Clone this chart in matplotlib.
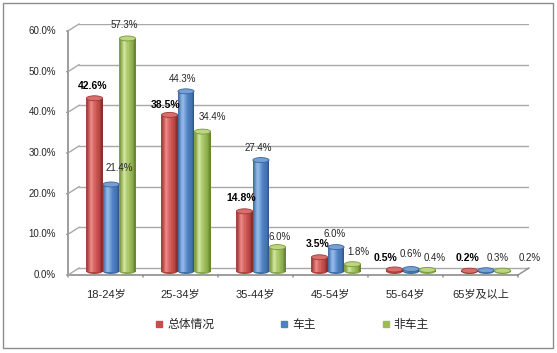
import numpy as np
import matplotlib
matplotlib.use("Agg")
import matplotlib.pyplot as plt
from matplotlib.colors import LinearSegmentedColormap
from matplotlib.patches import Ellipse, Rectangle
from matplotlib.lines import Line2D
from matplotlib.transforms import ScaledTranslation

plt.rcParams['font.family'] = ['Liberation Sans', 'Noto Sans CJK SC']

categories = ["18-24岁", "25-34岁", "35-44岁", "45-54岁", "55-64岁", "65岁及以上"]
series_names = ["总体情况", "车主", "非车主"]
total = [42.6, 38.5, 14.8, 3.5, 0.5, 0.2]
owners = [21.4, 44.3, 27.4, 6.0, 0.6, 0.3]
non_owners = [57.3, 34.4, 6.0, 1.8, 0.4, 0.2]
yticks = [0, 10, 20, 30, 40, 50, 60]

# label nudges in px (dx, dy above bar top)
lab_dx = [[-2, -4, -3, -2, -9, -2.5], [8, -3, -3, -1, 0, 11.5], [-3, 10, 2, 5.5, 7.5, 27.5]]
lab_dy = [[12.5, 10, 13, 13, 11, 12.5], [16, 12, 12.5, 13.5, 15, 12], [13, 15, 10, 12, 12, 13]]

W, H = 557, 353
fig = plt.figure(figsize=(W/100, H/100), dpi=100, facecolor="white")

# mid-depth plane of the 3D box, in pixels
x0px, x1px = 73.5, 523.5
y0px, ppu = 271.5, 244/60.0
ylo, yhi = -3, 60
bot = y0px - ylo*ppu
n = len(categories)
dx, dy = 5.5, 3.5   # half depth in px

# back wall: its own axes, shifted by half the depth, with plain y grid
axb = fig.add_axes([(x0px + dx)/W, (H - bot + dy)/H, (x1px - x0px)/W, (yhi - ylo)*ppu/H])
axb.set_zorder(-1)
axb.patch.set_visible(False)
axb.set_xlim(0, n)
axb.set_ylim(ylo, yhi)
axb.set_yticks(yticks)
axb.set_xticks([])
axb.tick_params(left=False, labelleft=False)
for sp in axb.spines.values():
    sp.set_visible(False)
axb.grid(axis="y", color="#a8a8a8", lw=1.0)

ax = fig.add_axes([x0px/W, (H-bot)/H, (x1px-x0px)/W, (yhi-ylo)*ppu/H])
ax.set_axis_off()
ax.patch.set_visible(False)
ax.set_autoscale_on(False)
ax.set_xlim(0, n)
ax.set_ylim(ylo, yhi)

front = ax.transData + ScaledTranslation(-dx/100, -dy/100, fig.dpi_scale_trans)
back = ax.transData + ScaledTranslation(dx/100, dy/100, fig.dpi_scale_trans)


def fig_line(p, q, color, lw=1.0, z=5):
    fig.add_artist(Line2D([p[0]/W, q[0]/W], [p[1]/H, q[1]/H], color=color, lw=lw, zorder=z))


# side wall / floor diagonals
for v in yticks:
    fig_line(front.transform((0, v)), back.transform((0, v)), "#a8a8a8")
fig_line(front.transform((n, 0)), back.transform((n, 0)), "#8c8c8c")

# front axes
ax.plot([0, 0], [0, 60], transform=front, color="#8c8c8c", lw=1.2, clip_on=False)
ax.plot([0, n], [0, 0], transform=front, color="#8c8c8c", lw=1.2, clip_on=False, zorder=4)
for v in yticks:
    ax.annotate("", xy=(0, v), xycoords=front, xytext=(-3, 0), textcoords="offset points",
                arrowprops=dict(arrowstyle="-", color="#8c8c8c", lw=1))
    ax.annotate("%.1f%%" % v, xy=(0, v), xycoords=front, xytext=(-8.5, 0),
                textcoords="offset points", ha="right", va="center", fontsize=7, color="#262626")
for i in range(n + 1):
    ax.annotate("", xy=(i, 0), xycoords=front, xytext=(0, -3.5), textcoords="offset points",
                arrowprops=dict(arrowstyle="-", color="#8c8c8c", lw=1))
for i, c in enumerate(categories):
    ax.annotate(c, xy=(i + 0.5, 0), xycoords=front, xytext=(0, -13.5), textcoords="offset points",
                ha="center", va="center", fontsize=8, color="#262626")

# cylinders, shaded with thin vertical strips
grads = [["#9E3936", "#EE8C89", "#CC5552", "#B24340", "#842926"],
         ["#37649C", "#93B9E8", "#5286C4", "#4170AA", "#2B5183"],
         ["#7A973B", "#D3E7A0", "#A0C05E", "#88A84B", "#627C2E"]]
tops = [("#D86F6C", "#9E3936"), ("#76A0D4", "#37649C"), ("#BBD67E", "#7A973B")]
legend_cols = ["#C0504D", "#4F81BD", "#9BBB59"]
data = [total, owners, non_owners]
bw, step = 0.215, 0.22
eh = 5.0/ppu
ns = 14
sw = bw/ns

for s, vals in enumerate(data):
    cmap = LinearSegmentedColormap.from_list("g%d" % s, list(zip([0, .3, .6, .85, 1], grads[s])))
    xs = np.arange(n) + 0.5 + (s - 1)*step
    for x, v in zip(xs, vals):
        ax.add_patch(Ellipse((x, 0), bw, eh, facecolor=grads[s][3], edgecolor="none", zorder=2))
    for k in range(ns):
        off = -bw/2 + (k + 0.5)*sw
        ax.bar(xs + off, vals, width=sw*1.15, color=cmap((k + 0.5)/ns), linewidth=0,
               antialiased=False, zorder=2.1)
    for x, v in zip(xs, vals):
        ax.add_patch(Ellipse((x, v), bw, eh, facecolor=tops[s][0], edgecolor=tops[s][1],
                             lw=0.6, zorder=3))
    for i, (x, v) in enumerate(zip(xs, vals)):
        ax.annotate("%.1f%%" % v, xy=(x, v), xytext=(lab_dx[s][i]*0.72, lab_dy[s][i]*0.72),
                    textcoords="offset points", ha="center", va="center",
                    fontsize=7.5 if s == 0 else 7, fontweight="bold" if s == 0 else "normal",
                    color="black" if s == 0 else "#262626", zorder=5)

ax.set_xlim(0, n)
ax.set_ylim(ylo, yhi)

handles = [Line2D([], [], marker="s", ls="", color=c, markersize=5) for c in legend_cols]
fig.legend(handles, series_names, loc="center", bbox_to_anchor=(292/W, 1 - 325/H), ncol=3,
           frameon=False, fontsize=8.5, handlelength=0.7, handletextpad=0.3, columnspacing=5.6,
           labelcolor="#262626")

fig.add_artist(Rectangle((3/W, 5/H), 550/W, 345/H, transform=fig.transFigure, fill=False,
                         ec="#8c8c8c", lw=1))

fig.savefig("out.png", dpi=100, facecolor="white")
